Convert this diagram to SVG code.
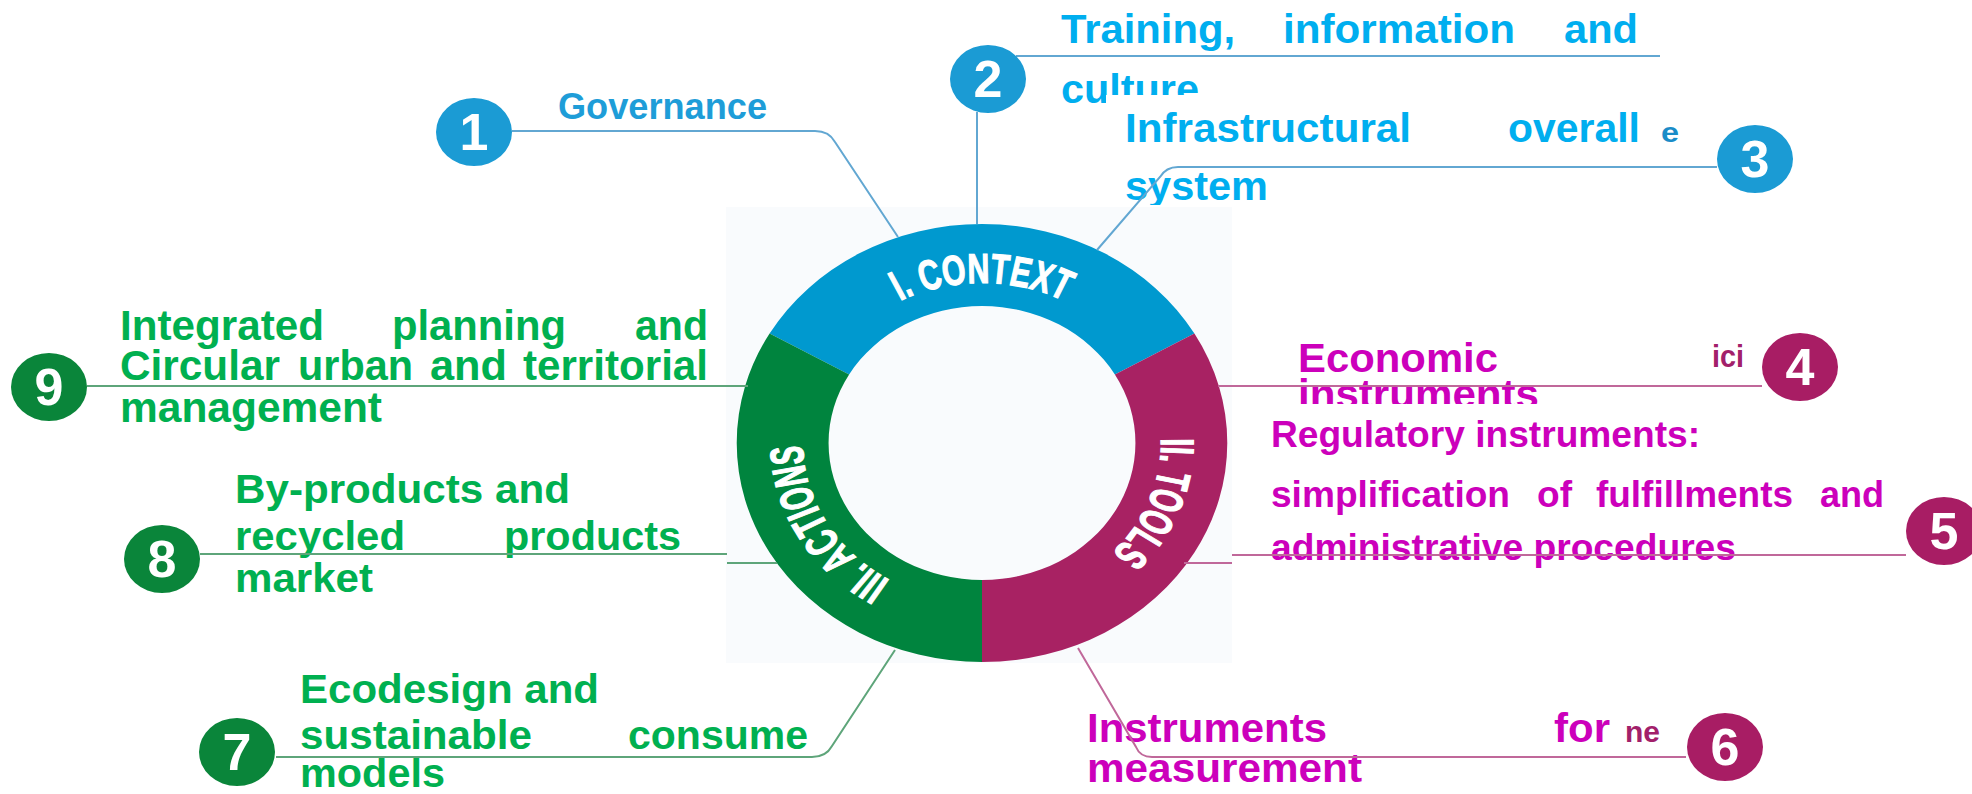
<svg xmlns="http://www.w3.org/2000/svg" width="1972" height="794" viewBox="0 0 1972 794">
<style>
.t{font-family:"Liberation Sans",Arial,sans-serif;font-weight:bold}
.b1{fill:#1e9dd8}.b2{fill:#00aeef}.bd{fill:#1a8cc8}
.g{fill:#00b050}
.m{fill:#cc00bb}.md{fill:#a2206a}
.num{font-family:"Liberation Sans",Arial,sans-serif;font-weight:bold;font-size:52px;fill:#fff;text-anchor:middle}
.cb{fill:none;stroke:#62a7d2;stroke-width:2}
.cg{fill:none;stroke:#5ea57a;stroke-width:2}
.cm{fill:none;stroke:#c0689a;stroke-width:2}
.bb{fill:#1b9bd4}.bg{fill:#0a853a}.bm{fill:#a81d64}
.rl{font-family:"Liberation Sans Narrow","Liberation Sans",Arial,sans-serif;font-weight:bold;font-size:42px;fill:#fff;stroke:#fff;stroke-width:1.2;text-anchor:middle}
</style>
<defs>
<clipPath id="clipCulture"><rect x="0" y="0" width="1106" height="794"/><rect x="1106" y="0" width="866" height="95"/></clipPath>
<clipPath id="clipSystem"><rect x="0" y="0" width="1972" height="205"/></clipPath>
<clipPath id="clipInstr"><rect x="0" y="0" width="1972" height="404"/></clipPath>
</defs>
<rect width="1972" height="794" fill="#fff"/>
<rect x="726" y="207" width="506" height="456" fill="#f9fbfd"/>

<g id="ring" transform="translate(982,443) scale(1.12,1)">
<defs>
<path id="arcContext" d="M-138.6,-80 A160,160 0 0 1 138.6,-80"/>
<path id="arcTools" d="M124.3,-100.7 A160,160 0 0 1 25,158"/>
<path id="arcActions" d="M0,160 A160,160 0 0 1 -138.6,-80"/>
</defs>
<path d="M-189.66,-109.5 A219,219 0 0 1 189.66,-109.5 L118.64,-68.5 A137,137 0 0 0 -118.64,-68.5 Z" fill="#0099cf"/>
<path d="M189.66,-109.5 A219,219 0 0 1 0,219 L0,137 A137,137 0 0 0 118.64,-68.5 Z" fill="#a82263"/>
<path d="M0,219 A219,219 0 0 1 -189.66,-109.5 L-118.64,-68.5 A137,137 0 0 0 0,137 Z" fill="#00843e"/>
<text class="rl"><textPath href="#arcContext" startOffset="50%" textLength="152" lengthAdjust="spacingAndGlyphs">I. CONTEXT</textPath></text>
<text class="rl"><textPath href="#arcTools" startOffset="50%" textLength="126" lengthAdjust="spacingAndGlyphs">II. TOOLS</textPath></text>
<text class="rl"><textPath href="#arcActions" startOffset="50%" textLength="163" lengthAdjust="spacingAndGlyphs">III. ACTIONS</textPath></text>
</g>

<g id="labels">
<g id="label-1"><text class="t b1" x="558" y="119" font-size="37" textLength="209" lengthAdjust="spacingAndGlyphs">Governance</text></g>
<g id="label-2" font-size="41">
<text class="t b2" y="43"><tspan x="1061" textLength="174" lengthAdjust="spacingAndGlyphs">Training,</tspan><tspan x="1283" textLength="232" lengthAdjust="spacingAndGlyphs">information</tspan><tspan x="1564" textLength="74" lengthAdjust="spacingAndGlyphs">and</tspan></text>
<text class="t b2" x="1061" y="103" textLength="138" lengthAdjust="spacingAndGlyphs" clip-path="url(#clipCulture)">culture</text>
</g>
<g id="label-3" font-size="41">
<text class="t b2" y="142"><tspan x="1125" textLength="286" lengthAdjust="spacingAndGlyphs">Infrastructural</tspan><tspan x="1508" textLength="132" lengthAdjust="spacingAndGlyphs">overall</tspan></text>
<text class="t bd" x="1661" y="142" font-size="28" textLength="18" lengthAdjust="spacingAndGlyphs">e</text>
<text class="t b2" x="1125" y="200" textLength="143" lengthAdjust="spacingAndGlyphs" clip-path="url(#clipSystem)">system</text>
</g>
<g id="label-4" font-size="41">
<text class="t m" x="1298" y="372" textLength="200" lengthAdjust="spacingAndGlyphs">Economic</text>
<text class="t md" x="1712" y="367" font-size="32" textLength="32" lengthAdjust="spacingAndGlyphs">ici</text>
<text class="t m" x="1298" y="408" textLength="241" lengthAdjust="spacingAndGlyphs" clip-path="url(#clipInstr)">instruments</text>
</g>
<g id="label-5" font-size="36">
<text class="t m" x="1271" y="447" textLength="429" lengthAdjust="spacingAndGlyphs">Regulatory instruments:</text>
<text class="t m" y="507"><tspan x="1271" textLength="239" lengthAdjust="spacingAndGlyphs">simplification</tspan><tspan x="1537" textLength="35" lengthAdjust="spacingAndGlyphs">of</tspan><tspan x="1596" textLength="197" lengthAdjust="spacingAndGlyphs">fulfillments</tspan><tspan x="1820" textLength="64" lengthAdjust="spacingAndGlyphs">and</tspan></text>
<text class="t m" x="1271" y="560" textLength="465" lengthAdjust="spacingAndGlyphs">administrative procedures</text>
</g>
<g id="label-6" font-size="41">
<text class="t m" y="742"><tspan x="1087" textLength="240" lengthAdjust="spacingAndGlyphs">Instruments</tspan><tspan x="1554" textLength="56" lengthAdjust="spacingAndGlyphs">for</tspan></text>
<text class="t md" x="1625" y="742" font-size="30" textLength="35" lengthAdjust="spacingAndGlyphs">ne</text>
<text class="t m" x="1087" y="782" textLength="275" lengthAdjust="spacingAndGlyphs">measurement</text>
</g>
<g id="label-7" font-size="41">
<text class="t g" x="300" y="703" textLength="299" lengthAdjust="spacingAndGlyphs">Ecodesign and</text>
<text class="t g" y="749"><tspan x="300" textLength="232" lengthAdjust="spacingAndGlyphs">sustainable</tspan><tspan x="628" textLength="180" lengthAdjust="spacingAndGlyphs">consume</tspan></text>
<text class="t g" x="300" y="787" textLength="145" lengthAdjust="spacingAndGlyphs">models</text>
</g>
<g id="label-8" font-size="41">
<text class="t g" x="235" y="503" textLength="335" lengthAdjust="spacingAndGlyphs">By-products and</text>
<text class="t g" y="550"><tspan x="235" textLength="170" lengthAdjust="spacingAndGlyphs">recycled</tspan><tspan x="504" textLength="177" lengthAdjust="spacingAndGlyphs">products</tspan></text>
<text class="t g" x="235" y="592" textLength="138" lengthAdjust="spacingAndGlyphs">market</text>
</g>
<g id="label-9" font-size="42">
<text class="t g" y="340"><tspan x="120" textLength="204" lengthAdjust="spacingAndGlyphs">Integrated</tspan><tspan x="392" textLength="174" lengthAdjust="spacingAndGlyphs">planning</tspan><tspan x="635" textLength="73" lengthAdjust="spacingAndGlyphs">and</tspan></text>
<text class="t g" y="380"><tspan x="120" textLength="160" lengthAdjust="spacingAndGlyphs">Circular</tspan><tspan x="298" textLength="115" lengthAdjust="spacingAndGlyphs">urban</tspan><tspan x="430" textLength="77" lengthAdjust="spacingAndGlyphs">and</tspan><tspan x="523" textLength="185" lengthAdjust="spacingAndGlyphs">territorial</tspan></text>
<text class="t g" x="120" y="422" textLength="262" lengthAdjust="spacingAndGlyphs">management</text>
</g>
</g>

<g id="connectors">
<path class="cb" d="M512,131 H815 Q829,131 835,142 L898,237"/>
<path class="cb" d="M977,112 V224 M1016,56 H1660"/>
<path class="cb" d="M1717,167 H1178 Q1166,167 1160,177 L1097,250"/>
<path class="cm" d="M1218,386 H1762"/>
<path class="cm" d="M1184,563 H1232 M1232,555 H1906"/>
<path class="cm" d="M1686,757 H1152 Q1140,757 1136,747 L1078,648"/>
<path class="cg" d="M276,757 H812 Q826,757 832,746 L895,650"/>
<path class="cg" d="M200,554 H727 M727,563 H777"/>
<path class="cg" d="M87,386 H748"/>
</g>

<g id="node-1"><ellipse class="bb" cx="474" cy="132" rx="38" ry="34"/><text class="num" x="474" y="150">1</text></g>
<g id="node-2"><ellipse class="bb" cx="988" cy="79" rx="38" ry="34"/><text class="num" x="988" y="97">2</text></g>
<g id="node-3"><ellipse class="bb" cx="1755" cy="159" rx="38" ry="34"/><text class="num" x="1755" y="177">3</text></g>
<g id="node-4"><ellipse class="bm" cx="1800" cy="367" rx="38" ry="34"/><text class="num" x="1800" y="385">4</text></g>
<g id="node-5"><ellipse class="bm" cx="1944" cy="531" rx="38" ry="34"/><text class="num" x="1944" y="549">5</text></g>
<g id="node-6"><ellipse class="bm" cx="1725" cy="747" rx="38" ry="34"/><text class="num" x="1725" y="765">6</text></g>
<g id="node-7"><ellipse class="bg" cx="237" cy="752" rx="38" ry="34"/><text class="num" x="237" y="770">7</text></g>
<g id="node-8"><ellipse class="bg" cx="162" cy="559" rx="38" ry="34"/><text class="num" x="162" y="577">8</text></g>
<g id="node-9"><ellipse class="bg" cx="49" cy="387" rx="38" ry="34"/><text class="num" x="49" y="405">9</text></g>
</svg>
